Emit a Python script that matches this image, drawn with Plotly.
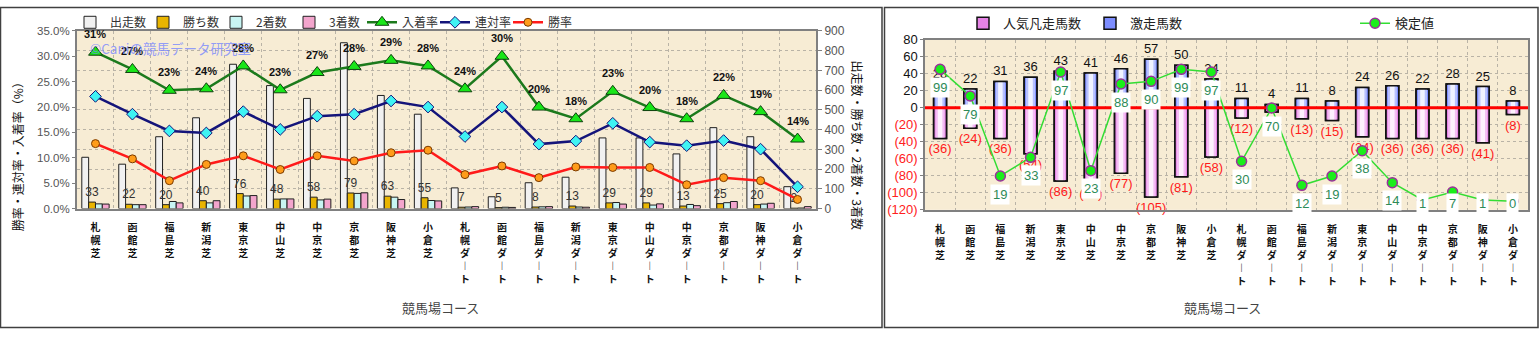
import plotly.graph_objects as go

# ---- data -------------------------------------------------------------
courses = ["札幌芝", "函館芝", "福島芝", "新潟芝", "東京芝", "中山芝", "中京芝", "京都芝", "阪神芝", "小倉芝",
           "札幌ダート", "函館ダート", "福島ダート", "新潟ダート", "東京ダート", "中山ダート", "中京ダート",
           "京都ダート", "阪神ダート", "小倉ダート"]

runs = [260, 225, 364, 460, 731, 623, 558, 840, 573, 478, 105, 60, 131, 159, 358, 358, 277, 410, 364, 111]
wins = [33, 22, 20, 40, 76, 48, 58, 79, 63, 55, 7, 5, 8, 13, 29, 29, 13, 25, 20, 2]
seconds = [24, 20, 36, 29, 64, 49, 44, 77, 58, 41, 8, 7, 9, 8, 31, 18, 21, 30, 23, 3]
thirds = [23, 20, 29, 40, 66, 49, 48, 80, 46, 39, 10, 6, 10, 7, 23, 24, 15, 36, 27, 10]

win_rate = [0.128, 0.098, 0.055, 0.087, 0.104, 0.077, 0.104, 0.094, 0.110, 0.115,
            0.067, 0.084, 0.061, 0.082, 0.081, 0.081, 0.047, 0.061, 0.055, 0.018]
quinella_rate = [0.221, 0.186, 0.153, 0.149, 0.191, 0.156, 0.182, 0.186, 0.212, 0.200,
                 0.142, 0.200, 0.127, 0.133, 0.168, 0.131, 0.124, 0.134, 0.117, 0.043]
place_rate = [0.308, 0.274, 0.233, 0.236, 0.281, 0.234, 0.268, 0.280, 0.292, 0.281,
              0.236, 0.300, 0.200, 0.177, 0.231, 0.199, 0.177, 0.223, 0.191, 0.137]

upset_count = [28, 22, 31, 36, 43, 41, 46, 57, 50, 34, 11, 4, 11, 8, 24, 26, 22, 28, 25, 8]
flop_count = [36, 24, 36, 54, 86, 89, 77, 105, 81, 58, 12, 5, 13, 15, 34, 36, 36, 36, 41, 8]
test_value = [99, 79, 19, 33, 97, 23, 88, 90, 99, 97, 30, 70, 12, 19, 38, 14, 1, 7, 1, 0]

# ---- layout helpers ---------------------------------------------------
W, H = 1539, 337
FONT = "Liberation Sans, Noto Sans CJK JP, sans-serif"
JP = "Noto Sans CJK JP, sans-serif"


def fx(p):
    return p / W


def fy(p):
    return 1 - p / H


def vertical(label):
    # stack characters top-to-bottom; the long-vowel mark uses its vertical form
    return "<br>".join("︱" if ch == "ー" else ch for ch in label)


xs = list(range(len(courses)))
ticks_v = [vertical(c) for c in courses]

L_X = (77, 816)
L_Y = (25, 211)
R_X = (925, 1528)
R_Y = (34.3, 212.3)
R_RANGE = (-120, 80)
T_RANGE = (-6.4, 121.2)
BAR_W = 0.43

fig = go.Figure()

# ---- left chart: counts (bars) ---------------------------------------
bar_specs = [("出走数", runs, "#f1f1f1"), ("勝ち数", wins, "#e9b500"),
             ("2着数", seconds, "#c8f5f3"), ("3着数", thirds, "#f3a5cd")]
for name, vals, color in bar_specs:
    kw = {}
    if name == "勝ち数":
        kw = dict(text=[str(v) for v in vals], textposition="outside",
                  textfont=dict(size=12, color="#333", family=FONT),
                  constraintext="none", cliponaxis=False)
    fig.add_trace(go.Bar(x=xs, y=vals, name=name, xaxis="x", yaxis="y",
                         marker=dict(color=color, line=dict(color="#202020", width=1)),
                         legend="legend", **kw))

# ---- left chart: rates (lines) ---------------------------------------
fig.add_trace(go.Scatter(x=xs, y=place_rate, name="入着率", xaxis="x", yaxis="y2",
                         mode="lines+markers", legend="legend",
                         line=dict(color="#1c7a1c", width=2.5),
                         marker=dict(symbol="triangle-up", size=12, color="#19e619",
                                     line=dict(color="#0d400d", width=1))))
fig.add_trace(go.Scatter(x=xs, y=quinella_rate, name="連対率", xaxis="x", yaxis="y2",
                         mode="lines+markers", legend="legend",
                         line=dict(color="#14147a", width=2.5),
                         marker=dict(symbol="diamond", size=9, color="#3ff3f3",
                                     line=dict(color="#14147a", width=1))))
fig.add_trace(go.Scatter(x=xs, y=win_rate, name="勝率", xaxis="x", yaxis="y2",
                         mode="lines+markers", legend="legend",
                         line=dict(color="#ff1a1a", width=2.5),
                         marker=dict(symbol="circle", size=8, color="#ff9c1a",
                                     line=dict(color="#7a3a00", width=1))))


# ---- right chart: shaded bars ------------------------------------------
def shaded_bars(values, name, shades, text, text_color):
    """Cylinder-like bar: an outlined edge colour, lighter inner strips, outline redrawn on top."""
    outer, mid, inner = shades
    common = dict(x=xs, y=values, xaxis="x2", yaxis="y3", offsetgroup="r", hoverinfo="skip")
    fig.add_trace(go.Bar(name=name, width=BAR_W, offset=-BAR_W / 2, legend="legend2",
                         marker=dict(color=outer, line=dict(color="#111", width=1.5)), **common))
    for w, c in ((0.30, mid), (0.15, inner)):
        fig.add_trace(go.Bar(width=w, offset=-w / 2, showlegend=False,
                             marker=dict(color=c, line=dict(width=0)), **common))
    fig.add_trace(go.Bar(width=BAR_W, offset=-BAR_W / 2, showlegend=False,
                         marker=dict(color="rgba(0,0,0,0)", line=dict(color="#111", width=1.5)),
                         text=text, textposition="outside", constraintext="none", cliponaxis=False,
                         textfont=dict(size=13, color=text_color, family=FONT), **common))


shaded_bars([-v for v in flop_count], "人気凡走馬数", ("#e683e6", "#f4bdf4", "#fdf0fd"),
            [f"({v})" for v in flop_count], "#ff1a1a")
shaded_bars(upset_count, "激走馬数", ("#7d8dff", "#b8c1ff", "#f0f2ff"),
            [str(v) for v in upset_count], "#111")

# zero reference line drawn above the bars
fig.add_trace(go.Scatter(x=[-0.5, len(courses) - 0.5], y=[0, 0], xaxis="x2", yaxis="y3",
                         mode="lines", line=dict(color="#ff0000", width=3),
                         showlegend=False, hoverinfo="skip"))
fig.add_trace(go.Scatter(x=xs, y=test_value, name="検定値", xaxis="x2", yaxis="y4",
                         mode="lines+markers", legend="legend3",
                         line=dict(color="#33dd33", width=1.5),
                         marker=dict(symbol="circle", size=10, color="#1aee1a",
                                     line=dict(color="#993399", width=1.5))))

# ---- annotations ------------------------------------------------------
ann = []
for i, v in enumerate(place_rate):
    ann.append(dict(x=i, y=v, xref="x", yref="y2", text=f"{round(v * 100)}%",
                    showarrow=False, yshift=18,
                    font=dict(size=11, color="#111", family="Liberation Sans", weight="bold")))

ppu = (R_Y[1] - R_Y[0]) / (T_RANGE[1] - T_RANGE[0])
for i, v in enumerate(test_value):
    ylab = max(v - 19 / ppu, T_RANGE[0] + 7 / ppu)
    ann.append(dict(x=i, y=ylab, xref="x2", yref="y4", text=str(v), showarrow=False,
                    bgcolor="#ffffff", borderpad=2,
                    font=dict(size=13, color="#2e8b57", family=FONT)))


def paper_text(x, y, text, size, color, angle=0, xanchor="center"):
    return dict(x=fx(x), y=fy(y), xref="paper", yref="paper", xanchor=xanchor, yanchor="middle",
                showarrow=False, textangle=angle, text=text,
                font=dict(size=size, color=color, family=JP))


ann += [
    paper_text(88, 43, "©Caniの競馬データ研究室", 13.5, "rgba(120,135,255,0.8)", xanchor="left"),
    paper_text(17, 154, "勝率・連対率・入着率（%）", 12, "#111", angle=-90),
    paper_text(857, 144, "出走数・勝ち数・2着数・3着数", 12, "#111", angle=90),
    paper_text(440, 314, "競馬場コース", 13, "#444"),
    paper_text(1222, 314, "競馬場コース", 13, "#444"),
]

# ---- frames around the two chart areas ---------------------------------
shapes = [
    dict(type="rect", xref="paper", yref="paper", x0=fx(0.5), x1=fx(882), y0=fy(335.5), y1=fy(0.5),
         line=dict(color="#404040", width=1.5)),
    dict(type="rect", xref="paper", yref="paper", x0=fx(884.5), x1=fx(1538), y0=fy(335.5), y1=fy(0.5),
         line=dict(color="#404040", width=1.5)),
]

# right-axis tick labels: negatives in red parentheses
r_ticks = list(range(R_RANGE[0], R_RANGE[1] + 1, 20))
r_text = [str(t) if t >= 0 else f"<span style='color:#ff2020'>({-t})</span>" for t in r_ticks]

grid = dict(showgrid=True, gridcolor="#b9b3a6", griddash="dot", gridwidth=1)
xminor = dict(tickmode="linear", tick0=0.5, dtick=1, showgrid=True, gridcolor="#b9b3a6",
              griddash="dot", ticklen=0)
cat_font = dict(size=10, color="#111", family=JP, weight="bold")

fig.update_layout(
    width=W, height=H, margin=dict(l=0, r=0, t=0, b=0),
    paper_bgcolor="white", plot_bgcolor="#f7ecd4",
    font=dict(family=FONT, size=12, color="#333"),
    barmode="group", bargap=0.26, bargroupgap=0,
    xaxis=dict(domain=[fx(L_X[0]), fx(L_X[1])], range=[-0.5, 19.5], anchor="y",
               tickmode="array", tickvals=xs, ticktext=ticks_v, showgrid=False,
               minor=xminor, tickfont=cat_font, ticklabelstandoff=9,
               showline=True, mirror=True, linecolor="#808080", linewidth=1.5, zeroline=False),
    yaxis=dict(domain=[fy(L_Y[1]), fy(L_Y[0])], range=[0, 900], dtick=100, side="right", anchor="x",
               ticks="outside", ticklen=4, tickcolor="#808080", tickfont=dict(size=12, color="#555"),
               showline=True, mirror=True, linecolor="#808080", linewidth=2, zeroline=False, **grid),
    yaxis2=dict(overlaying="y", side="left", range=[0, 0.35], dtick=0.05, tickformat=".1%", anchor="x",
                ticks="outside", ticklen=4, tickcolor="#808080", tickfont=dict(size=11.5, color="#555"),
                showgrid=False, zeroline=False),
    xaxis2=dict(domain=[fx(R_X[0]), fx(R_X[1])], range=[-0.5, 19.5], anchor="y3",
                tickmode="array", tickvals=xs, ticktext=ticks_v, showgrid=False,
                minor=xminor, tickfont=cat_font, ticklabelstandoff=9,
                showline=True, mirror=True, linecolor="#808080", linewidth=1.5, zeroline=False),
    yaxis3=dict(domain=[fy(R_Y[1]), fy(R_Y[0])], range=list(R_RANGE), anchor="x2",
                tickmode="array", tickvals=r_ticks, ticktext=r_text,
                tickfont=dict(size=13, color="#111"), ticks="outside", ticklen=3, tickcolor="#808080",
                showline=True, mirror=True, linecolor="#808080", linewidth=1.5, zeroline=False, **grid),
    yaxis4=dict(overlaying="y3", range=list(T_RANGE), visible=False, anchor="x2"),
    legend=dict(orientation="h", x=fx(70), y=fy(16), xanchor="left", yanchor="middle",
                entrywidth=28, font=dict(size=12, color="#333", family=JP), bgcolor="rgba(0,0,0,0)",
                traceorder="normal"),
    legend2=dict(orientation="h", x=fx(963), y=fy(17), xanchor="left", yanchor="middle",
                 entrywidth=82, font=dict(size=13, color="#222", family=JP), bgcolor="rgba(0,0,0,0)",
                 traceorder="normal"),
    legend3=dict(orientation="h", x=fx(1355), y=fy(17), xanchor="left", yanchor="middle",
                 font=dict(size=13, color="#222", family=JP), bgcolor="rgba(0,0,0,0)"),
    annotations=ann, shapes=shapes, showlegend=True,
)

fig.write_html("out.html")
